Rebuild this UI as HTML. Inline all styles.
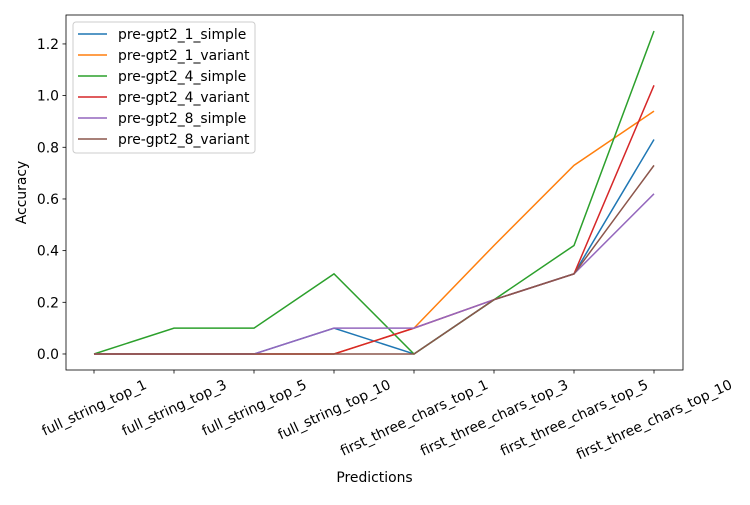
<!DOCTYPE html>
<html><head><meta charset="utf-8"><style>body{margin:0;background:#fff}svg{font-family:"DejaVu Sans","Liberation Sans",sans-serif}</style></head>
<body>
<svg id="chart" width="750" height="500"></svg>
<script>
const categories=["full_string_top_1","full_string_top_3","full_string_top_5","full_string_top_10","first_three_chars_top_1","first_three_chars_top_3","first_three_chars_top_5","first_three_chars_top_10"];
const seriesNames=["pre-gpt2_1_simple","pre-gpt2_1_variant","pre-gpt2_4_simple","pre-gpt2_4_variant","pre-gpt2_8_simple","pre-gpt2_8_variant"];
const s1Simple=[0,0,0,0.1,0,0.21,0.31,0.83];
const s1Variant=[0,0,0,0,0.1,0.42,0.73,0.94];
const s4Simple=[0,0.1,0.1,0.31,0,0.21,0.42,1.25];
const s4Variant=[0,0,0,0,0.1,0.21,0.31,1.04];
const s8Simple=[0,0,0,0.1,0.1,0.21,0.31,0.62];
const s8Variant=[0,0,0,0,0,0.21,0.31,0.73];
const yTicks=[0,0.2,0.4,0.6,0.8,1.0,1.2];
const colors=["#1f77b4","#ff7f0e","#2ca02c","#d62728","#9467bd","#8c564b"];
const allSeries=[s1Simple,s1Variant,s4Simple,s4Variant,s8Simple,s8Variant];
const NS="http://www.w3.org/2000/svg";
const svg=document.getElementById('chart');
const L=66,R=683,T=15,B=370;
const FS=13.9;
const yMin=-0.062,yMax=1.312;
function xs(i){return 94+i*(654-94)/(categories.length-1);}
function ys(v){return B-(v-yMin)/(yMax-yMin)*(B-T);}
function mk(tag,attrs,parent){const e=document.createElementNS(NS,tag);for(const k in attrs)e.setAttribute(k,attrs[k]);(parent||svg).appendChild(e);return e;}
allSeries.forEach((data,si)=>{
  const pts=data.map((v,i)=>xs(i).toFixed(2)+','+ys(v).toFixed(2)).join(' ');
  const pl=mk('polyline',{points:pts,fill:'none',stroke:colors[si],'stroke-width':1.5});
  
  
});
const fr=mk('rect',{x:L,y:T,width:R-L,height:B-T,fill:'none',stroke:'#000','stroke-width':0.8});


yTicks.forEach(v=>{
  const y=ys(v);
  mk('line',{x1:L-3.5,x2:L,y1:y,y2:y,stroke:'#000','stroke-width':0.8});
  const t=mk('text',{x:L-7,y:y+5,'text-anchor':'end','font-size':FS});
  t.textContent=v.toFixed(1);
  
  
});
const ang=25,rad=ang*Math.PI/180;
categories.forEach((c,i)=>{
  const x=xs(i);
  mk('line',{x1:x,x2:x,y1:B,y2:B+3.5,stroke:'#000','stroke-width':0.8});
  const t=mk('text',{'text-anchor':'middle','font-size':FS});
  t.textContent=c;
  const w=t.getComputedTextLength(),h=FS;
  const rh=w*Math.sin(rad)+h*Math.cos(rad);
  const cy=B+7+rh/2;
  t.setAttribute('transform','translate('+x+','+cy+') rotate(-'+ang+')');
  t.setAttribute('y',5);
  
  
});
const xt=mk('text',{x:(L+R)/2,y:482,'text-anchor':'middle','font-size':FS});
xt.textContent='Predictions';


const yt=mk('text',{x:0,y:0,'text-anchor':'middle','font-size':FS,transform:'translate(26,'+((T+B)/2)+') rotate(-90)'});
yt.textContent='Accuracy';


const lg=mk('g',{});


mk('rect',{x:73,y:22,width:182,height:131,rx:3,fill:'#fff','fill-opacity':0.8,stroke:'#ccc','stroke-width':1},lg);
seriesNames.forEach((n,i)=>{
  const y=34+i*21;
  const g=mk('g',{},lg);
  
  
  mk('line',{x1:78,x2:107,y1:y,y2:y,stroke:colors[i],'stroke-width':1.5},g);
  const t=mk('text',{x:118,y:y+5,'font-size':FS},g);
  t.textContent=n;
});
</script>
</body></html>
